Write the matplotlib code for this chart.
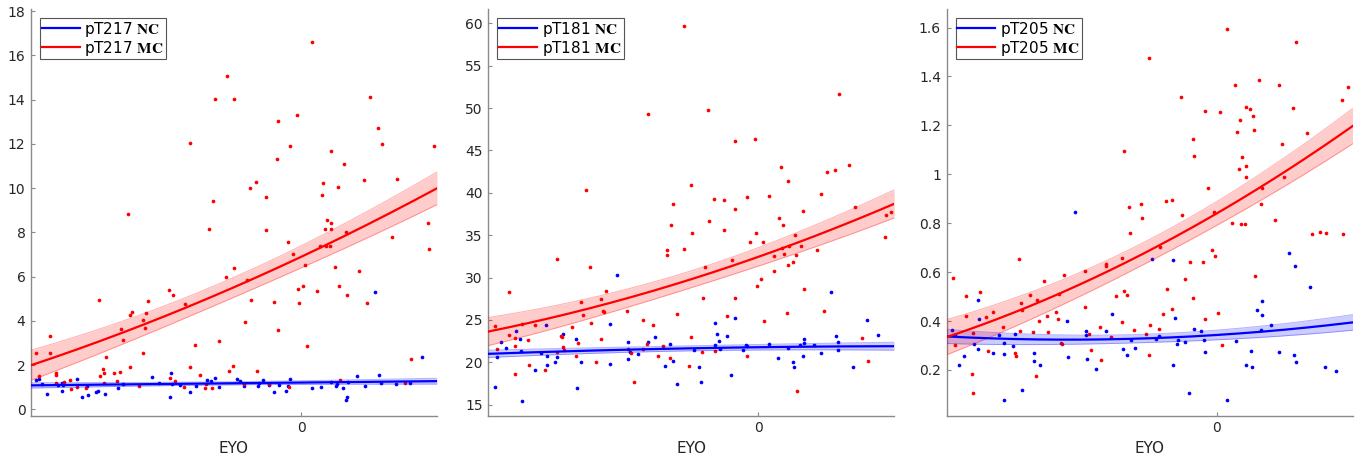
import numpy as np
import matplotlib.pyplot as plt
from matplotlib.ticker import FuncFormatter

plt.rcParams['font.family'] = 'DejaVu Sans'
plt.rcParams['mathtext.fontset'] = 'stix'

# ---- pT217 ----
p217_nc_eyo = [-19.63, -19.41, -19.16, -18.79, -18.02, -17.73, -17.68, -17.63, -16.57, -16.22,
               -15.8, -15.83, -15.16, -15.06, -14.52, -13.58, -13.16, -11.06, -10.49, -9.68,
               -9.65, -9.6, -8.94, -8.2, -7.75, -6.99, -6.67, -6.37, -6.07, -4.77,
               -4.52, -4.22, -3.23, -3.11, -2.86, -2.35, -2.05, -1.68, -1.14, -1.01,
               -0.81, 0.81, 1.46, 2.2, 2.57, 2.64, 3.06, 3.31, 3.38, 3.46,
               4.1, 4.69, 5.43, 5.78, 5.9, 7.04, 8.05, 8.94]
p217_nc_val = [1.34, 1.36, 1.15, 0.69, 1.09, 0.82, 1.21, 1.09, 1.39, 0.56,
               0.65, 1.06, 0.77, 0.82, 0.68, 0.95, 1.13, 1.47, 1.18, 0.56,
               1.66, 1.15, 1.1, 0.8, 1.06, 1.31, 1.28, 1.42, 1.03, 1.39,
               1.27, 1.07, 1.04, 1.19, 1.31, 1.09, 0.8, 1.09, 0.82, 1.06,
               1.39, 0.98, 1.01, 1.22, 1.07, 1.15, 0.98, 0.42, 0.57, 1.24,
               1.53, 1.07, 5.29, 1.54, 1.18, 1.13, 1.21, 2.39]
p217_mc_eyo = [0.79, -5.48, -6.37, -4.99, 5.06, -8.25, -1.70, -0.30, 5.65, 5.98,
               9.83, -0.81, 2.22, -1.78, 3.16, 4.62, 7.11, -3.78, -3.31, 1.65,
               2.72, 1.51, -2.62, -6.52, -12.84, 1.88, 2.2, 9.36, -6.81, 1.78,
               2.22, -2.57, 3.31, 6.74, -0.99, -0.62, 1.41, 1.85, 2.1, 9.43,
               -4.96, 2.52, -5.53, -3.98, 4.3, 0.25, 0.15, -0.2, 1.16, 2.79,
               3.36, -3.73, -0.15, -2.0, 4.89, -9.78, -9.51, -8.59, -11.33, -11.51,
               -11.7, -11.58, -12.49, -12.64, -13.36, -13.16, -14.99, -4.15, -1.75, -6.1,
               -18.62, -18.57, -19.6, -11.73, -7.88, 0.44, 8.15, -14.47, -19.41, -8.2,
               -12.67, -5.04, -5.31, -3.28, -14.69, -14.91, -14.57, -13.85, -13.41, -18.15,
               -18.12, -7.51, -17.11, -17.58, -18.17, -14.57, -13.65, -11.98, -9.73, -9.33,
               -8.64, -6.62, -7.06, -7.11, -4.27, -2.35, -0.89, 2.89, 7.68, -16.59,
               -17.04, -15.93]
p217_mc_val = [16.6, 15.05, 14.03, 14.03, 14.14, 12.05, 13.02, 13.3, 12.73, 12.02,
               11.89, 11.92, 11.66, 11.33, 11.11, 10.39, 10.4, 10.0, 10.3, 10.24,
               10.07, 9.69, 9.6, 9.44, 8.85, 8.55, 8.44, 8.44, 8.14, 8.17,
               8.14, 8.09, 8.03, 7.81, 7.55, 7.04, 7.37, 7.4, 7.4, 7.27,
               6.39, 6.42, 5.97, 5.86, 6.27, 6.53, 5.59, 5.44, 5.36, 5.56,
               5.17, 4.94, 4.83, 4.85, 4.82, 5.41, 5.17, 4.77, 4.91, 4.35,
               4.05, 3.67, 4.41, 4.27, 3.62, 3.16, 4.97, 3.97, 3.58, 3.11,
               3.32, 2.57, 2.57, 2.57, 2.9, 2.89, 2.27, 2.39, 1.53, 1.93,
               1.9, 1.96, 1.75, 1.75, 1.83, 1.51, 1.63, 1.63, 1.69, 1.63,
               1.57, 1.57, 1.34, 1.25, 1.19, 1.19, 1.3, 1.07, 1.44, 1.3,
               1.0, 0.95, 1.15, 0.97, 1.16, 1.16, 1.03, 1.33, 1.18, 1.0,
               0.91, 0.97]

# ---- pT181 ----
p181_nc_eyo = [-19.53, -19.34, -19.02, -18.7, -17.94, -17.62, -17.59, -17.52, -16.51, -16.1,
               -15.75, -15.68, -15.68, -15.06, -14.94, -14.45, -13.51, -13.46, -13.1, -11.01,
               -11.01, -10.47, -9.63, -9.63, -9.53, -8.89, -8.16, -7.69, -6.93, -6.58,
               -6.31, -6.02, -4.74, -4.42, -4.23, -3.19, -3.1, -3.19, -2.9, -2.85,
               -2.36, -2.06, -1.7, -1.13, -0.93, -0.86, 0.81, 1.45, 2.19, 2.58,
               2.63, 3.05, 3.34, 3.34, 3.32, 4.08, 4.64, 5.38, 5.75, 5.87,
               5.87, 7.0, 8.01, 8.87]
p181_nc_val = [17.08, 20.61, 22.45, 21.63, 23.75, 22.8, 21.35, 15.39, 19.04, 21.08,
               24.45, 19.67, 20.8, 19.98, 20.57, 23.39, 22.73, 17.0, 19.98, 24.53,
               19.78, 30.29, 22.41, 20.41, 21.24, 21.0, 22.41, 23.04, 19.55, 22.14,
               20.1, 17.39, 21.51, 19.47, 17.63, 24.69, 23.31, 22.1, 22.53, 21.55,
               23.12, 18.49, 25.2, 21.47, 22.06, 21.9, 22.18, 20.45, 21.67, 20.06,
               19.47, 22.06, 22.76, 22.33, 20.69, 22.02, 21.08, 28.33, 23.16, 22.41,
               21.47, 19.39, 24.96, 23.27]
p181_mc_eyo = [-12.78, -8.21, -5.48, -3.76, -1.70, -0.27, 5.97, 6.71, 5.06, 5.65,
               1.67, 2.19, -4.96, 4.62, -6.34, -3.29, -2.53, -0.81, 0.76, 7.13,
               -1.74, 3.29, 9.8, 9.41, 1.52, -3.66, -6.49, 1.84, -2.58, -4.91,
               -0.17, 2.7, 9.34, -0.61, 0.32, 3.15, 1.15, 1.74, 1.89, 2.24,
               2.8, 2.53, 2.21, -1.94, 4.32, 1.18, 0.22, -0.12, 3.37, -6.78,
               -6.78, -5.53, -14.89, -12.46, -3.98, -4.13, -1.70, -11.25, -11.65, -18.5,
               -13.16, -9.71, -11.5, -11.45, 4.89, 2.09, -6.04, -2.33, -12.97, -12.43,
               0.44, -8.55, -7.84, -17.52, -16.51, -13.81, -13.34, -11.67, -17.03, -18.45,
               -4.99, 7.67, -18.01, -18.01, -19.48, -19.34, -14.59, -14.52, -14.5, -14.4,
               -14.89, -8.23, -7.03, -9.68, -8.57, -9.41, -4.15, -3.24, -13.5, -7.47,
               -6.56, -0.84, -16.99, -15.83, -12.0, -5.14, -18.03, 8.11, -9.19, 2.87]
p181_mc_val = [40.32, 49.27, 59.64, 49.79, 46.12, 46.36, 51.64, 43.28, 42.49, 42.65,
               43.08, 41.39, 40.88, 39.81, 38.63, 39.26, 39.18, 39.5, 39.61, 38.35,
               38.04, 37.8, 37.72, 37.44, 37.01, 36.66, 36.18, 36.18, 35.59, 35.28,
               35.28, 35.08, 34.84, 34.18, 34.14, 33.78, 32.57, 33.51, 32.84, 33.75,
               32.61, 31.86, 31.47, 32.06, 33.31, 30.8, 29.78, 29.04, 28.69, 33.24,
               32.65, 33.35, 32.14, 31.27, 31.2, 27.63, 27.63, 28.45, 27.47, 28.25,
               27.12, 26.02, 26.06, 25.9, 26.06, 25.86, 25.7, 25.43, 25.59, 24.61,
               24.88, 25.0, 24.41, 24.57, 24.37, 24.14, 22.22, 22.8, 22.65, 23.24,
               23.04, 22.88, 22.92, 21.9, 24.33, 21.55, 23.16, 23.04, 21.86, 21.47,
               21.16, 22.18, 21.98, 21.55, 21.55, 21.08, 21.2, 21.35, 20.69, 20.69,
               20.53, 20.69, 19.67, 19.12, 20.02, 19.59, 18.61, 20.18, 17.67, 16.61]

# ---- pT205 ----
p205_nc_eyo = [-19.61, -19.36, -19.07, -18.7, -17.99, -17.67, -17.64, -17.57, -16.54, -16.14,
               -15.77, -15.72, -15.72, -15.11, -14.96, -14.45, -13.56, -13.54, -13.12, -11.06,
               -11.03, -10.49, -9.66, -9.68, -9.61, -8.92, -8.21, -7.74, -6.95, -6.66,
               -6.34, -6.04, -4.79, -4.47, -4.25, -3.22, -3.24, -3.12, -2.92, -2.87,
               -2.38, -2.09, -1.7, -1.13, -0.96, -0.84, 0.76, 1.43, 2.14, 2.53,
               2.6, 2.99, 3.34, 3.34, 3.27, 4.05, 4.62, 5.33, 5.8, 5.75,
               5.85, 6.93, 7.99, 8.82]
p205_nc_val = [0.362, 0.341, 0.22, 0.255, 0.306, 0.287, 0.485, 0.41, 0.271, 0.342,
               0.264, 0.309, 0.078, 0.298, 0.345, 0.118, 0.268, 0.235, 0.219, 0.399,
               0.252, 0.844, 0.361, 0.341, 0.246, 0.205, 0.36, 0.428, 0.287, 0.26,
               0.323, 0.29, 0.653, 0.328, 0.339, 0.649, 0.222, 0.412, 0.306, 0.323,
               0.313, 0.106, 0.368, 0.361, 0.323, 0.275, 0.078, 0.317, 0.222, 0.279,
               0.212, 0.444, 0.481, 0.423, 0.362, 0.382, 0.272, 0.678, 0.626, 0.261,
               0.231, 0.541, 0.214, 0.197]
p205_mc_eyo = [0.74, 5.9, -4.99, 1.33, 3.12, 4.59, 9.75, 9.29, -2.68, -0.84,
               0.27, 2.16, 2.48, 2.68, 5.63, 1.74, 2.75, 1.47, 6.66, -1.79,
               4.84, -6.83, -1.72, 1.87, 2.16, 1.62, 2.16, 5.01, -0.66, 3.34,
               4.28, -2.58, -0.2, -6.51, -5.58, 3.29, -3.76, -3.32, -5.5, 1.13,
               1.77, 2.09, -6.39, 7.08, 7.62, 8.08, 9.36, -19.53, -18.53, -18.55,
               -17.54, -18.06, -18.08, -18.03, -19.36, -17.05, -16.54, -16.95, -15.85, -14.62,
               -14.52, -14.42, -14.55, -14.91, -14.84, -13.83, -13.29, -12.82, -13.14, -12.58,
               -12.51, -13.61, -13.37, -11.92, -11.67, -11.72, -11.55, -11.47, -11.3, -9.75,
               -9.78, -9.46, -9.29, -8.62, -8.6, -8.23, -8.21, -7.86, -7.49, -7.05,
               -7.0, -6.83, -6.63, -6.12, -5.26, -5.04, -4.94, -4.25, -4.18, -3.98,
               -3.71, -3.29, -2.33, -1.99, -1.74, -1.01, -0.86, -0.37, -0.15, 0.12,
               0.42, 2.85]
p205_mc_val = [1.595, 1.543, 1.475, 1.364, 1.386, 1.367, 1.355, 1.303, 1.317, 1.258,
               1.255, 1.276, 1.268, 1.239, 1.27, 1.221, 1.182, 1.175, 1.168, 1.143,
               1.124, 1.096, 1.074, 1.07, 1.034, 1.021, 0.987, 0.988, 0.943, 0.946,
               0.814, 0.834, 0.846, 0.865, 0.878, 0.88, 0.889, 0.894, 0.823, 0.8,
               0.797, 0.797, 0.759, 0.755, 0.763, 0.758, 0.755, 0.577, 0.503, 0.421,
               0.517, 0.353, 0.182, 0.106, 0.301, 0.417, 0.435, 0.278, 0.376, 0.653,
               0.472, 0.447, 0.361, 0.268, 0.255, 0.507, 0.484, 0.565, 0.402, 0.421,
               0.354, 0.356, 0.175, 0.435, 0.509, 0.409, 0.309, 0.305, 0.588, 0.604,
               0.457, 0.346, 0.281, 0.377, 0.242, 0.634, 0.626, 0.334, 0.504, 0.659,
               0.398, 0.524, 0.506, 0.362, 0.346, 0.261, 0.384, 0.367, 0.702, 0.428,
               0.53, 0.45, 0.571, 0.642, 0.496, 0.641, 0.408, 0.689, 0.666, 0.432,
               0.301, 0.586]

# quadratic fits: [c2, c1, c0] and CI half-width params [h0, k, centre]
p217_nc_fit = [0.0, 0.00633, 1.217]
p217_nc_ci = [0.07, 4.85e-5, -6.0]
p217_mc_fit = [0.0021, 0.287, 6.9]
p217_mc_ci = [0.45, 0.00133, -6.0]
p181_nc_fit = [-0.0009, 0.021, 21.78]
p181_nc_ci = [0.3, 0.0005, -6.0]
p181_mc_fit = [0.00603, 0.5617, 32.45]
p181_mc_ci = [1.0, 0.0078, -5.0]
p205_nc_fit = [0.00016, 0.0035, 0.343]
p205_nc_ci = [0.017, 2.8e-6, -6.0]
p205_mc_fit = [0.00034, 0.0321, 0.84]
p205_mc_ci = [0.045, 1.4e-5, -5.0]

panels = [
    ("pT217", p217_nc_eyo, p217_nc_val, p217_mc_eyo, p217_mc_val,
     p217_nc_fit, p217_nc_ci, p217_mc_fit, p217_mc_ci, (-0.28, 18.1), np.arange(0, 19, 2)),
    ("pT181", p181_nc_eyo, p181_nc_val, p181_mc_eyo, p181_mc_val,
     p181_nc_fit, p181_nc_ci, p181_mc_fit, p181_mc_ci, (13.7, 61.7), np.arange(15, 61, 5)),
    ("pT205", p205_nc_eyo, p205_nc_val, p205_mc_eyo, p205_mc_val,
     p205_nc_fit, p205_nc_ci, p205_mc_fit, p205_mc_ci, (0.013, 1.676), np.arange(0.2, 1.61, 0.2)),
]

xlim = (-20.0, 10.05)
lefts = [0.0228, 0.359, 0.696]

fig = plt.figure(figsize=(13.6, 4.58), dpi=100)
xs = np.linspace(xlim[0], xlim[1], 200)

for i, (name, nx, ny, mx, my, nfit, nci, mfit, mci, ylim, yt) in enumerate(panels):
    ax = fig.add_axes([lefts[i], 0.0924, 0.2985, 0.888])
    ax.scatter(nx, ny, s=7, color='blue', linewidths=0, zorder=2)
    ax.scatter(mx, my, s=7, color='red', linewidths=0, zorder=2)

    handles = []
    for fit, ci, col, grp in [(nfit, nci, 'blue', 'NC'), (mfit, mci, 'red', 'MC')]:
        yfit = np.polyval(fit, xs)
        hw = np.sqrt(ci[0] ** 2 + ci[1] * (xs - ci[2]) ** 2)
        ax.fill_between(xs, yfit - hw, yfit + hw, color=col, alpha=0.2, linewidth=0, zorder=3)
        ax.plot(xs, yfit - hw, color=col, alpha=0.3, lw=0.7, zorder=3)
        ax.plot(xs, yfit + hw, color=col, alpha=0.3, lw=0.7, zorder=3)
        h, = ax.plot(xs, yfit, color=col, lw=1.6, zorder=4,
                     label=name + r" $\mathbf{" + grp + "}$ ")
        handles.append(h)

    ax.set_xlim(xlim)
    ax.set_ylim(ylim)
    ax.set_xticks([0])
    ax.set_yticks(yt)
    ax.yaxis.set_major_formatter(FuncFormatter(lambda v, p: f"{v:g}"))
    for s in ['top', 'right']:
        ax.spines[s].set_visible(False)
    for s in ['left', 'bottom']:
        ax.spines[s].set_color('#8a8a8a')
        ax.spines[s].set_linewidth(1.0)
    ax.tick_params(direction='in', length=3, color='#8a8a8a', labelsize=10,
                   labelcolor='#262626', pad=4)
    ax.set_xlabel("EYO", fontsize=11, color='#262626', labelpad=4)

    leg = ax.legend(handles=handles, loc='upper left', fontsize=11, handlelength=2.5,
                    fancybox=False, framealpha=1, edgecolor='#555555',
                    borderaxespad=0.6, borderpad=0.1, labelspacing=0.0,
                    handletextpad=0.3)
    leg.get_frame().set_linewidth(0.8)
    leg.set_zorder(10)

fig.savefig("out.png", dpi=100)
